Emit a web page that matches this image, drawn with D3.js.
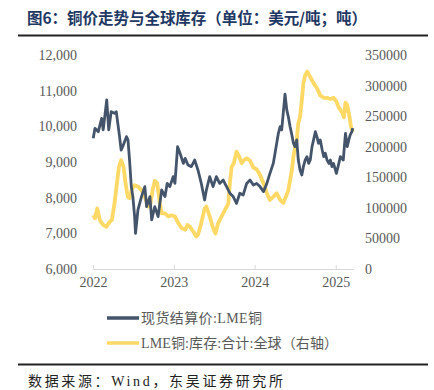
<!DOCTYPE html>
<html><head><meta charset="utf-8">
<script src="https://cdn.jsdelivr.net/npm/d3@7/dist/d3.min.js"></script>
<style>
body{margin:0;background:#fff;}
svg{display:block;}
</style></head>
<body>
<script>
const title = "图6：铜价走势与全球库存（单位：美元/吨；吨）";
const source = "数据来源：Wind，东吴证券研究所";
const seriesNames = ["现货结算价:LME铜", "LME铜:库存:合计:全球（右轴）"];
const leftTicks = [6000,7000,8000,9000,10000,11000,12000];
const rightTicks = [0,50000,100000,150000,200000,250000,300000,350000];
const yearTicks = ["2022","2023","2024","2025"];

const priceDates = ["2022-01-02","2022-01-10","2022-01-25","2022-02-09","2022-02-16","2022-03-04","2022-03-13","2022-03-24","2022-04-08","2022-04-16","2022-05-01","2022-05-08","2022-05-15","2022-06-01","2022-06-08","2022-06-15","2022-06-23","2022-06-30","2022-07-08","2022-07-12","2022-07-23","2022-08-08","2022-08-23","2022-08-31","2022-09-15","2022-09-23","2022-10-07","2022-10-22","2022-11-07","2022-11-22","2022-12-02","2022-12-14","2022-12-29","2023-01-06","2023-01-18","2023-01-29","2023-02-13","2023-02-21","2023-03-06","2023-03-21","2023-04-05","2023-04-20","2023-05-05","2023-05-20","2023-05-28","2023-06-12","2023-06-27","2023-07-12","2023-07-27","2023-08-12","2023-08-27","2023-09-11","2023-09-26","2023-10-11","2023-10-26","2023-11-10","2023-11-26","2023-12-11","2023-12-26","2024-01-10","2024-01-25","2024-02-10","2024-02-25","2024-03-10","2024-03-25","2024-04-02","2024-04-17","2024-04-25","2024-05-02","2024-05-09","2024-05-17","2024-05-25","2024-06-01","2024-06-09","2024-06-17","2024-06-24","2024-07-01","2024-07-09","2024-07-16","2024-07-24","2024-08-01","2024-08-08","2024-08-16","2024-08-24","2024-09-01","2024-09-08","2024-09-16","2024-09-23","2024-10-01","2024-10-08","2024-10-15","2024-10-23","2024-11-01","2024-11-08","2024-11-15","2024-11-23","2024-12-01","2024-12-08","2024-12-15","2024-12-22","2025-01-04","2025-01-15","2025-01-22","2025-02-04","2025-02-14","2025-02-22","2025-03-01","2025-03-07","2025-03-15","2025-03-19"];
const priceValues = [9664,9945,9850,10225,9900,10740,9900,10410,10365,10410,9710,9335,9430,9710,9620,9055,8310,8030,7470,7000,7655,8030,8310,7750,8030,7375,7750,7470,8215,8030,8400,8310,8590,8400,9430,9245,8960,9100,8915,8870,9055,8775,8400,7935,8215,8590,8310,8590,8400,8495,8310,8125,8030,7840,8125,8075,8400,8495,8355,8400,8310,8170,8400,8680,8960,9245,9805,9990,9900,10365,10900,10460,10270,9990,9755,9525,9430,9620,9055,8775,8635,8870,9055,9150,8960,9055,9430,9620,9850,9710,9525,9620,9335,9150,9245,9055,8960,9055,8870,8960,8680,8960,9150,9055,9805,9430,9620,9755,9850,9950];

const stockDates = ["2022-01-02","2022-01-10","2022-01-20","2022-02-01","2022-02-16","2022-03-02","2022-03-17","2022-03-27","2022-04-08","2022-04-19","2022-04-28","2022-05-08","2022-05-19","2022-05-28","2022-06-07","2022-06-15","2022-06-27","2022-07-08","2022-07-23","2022-08-08","2022-08-23","2022-09-07","2022-09-18","2022-09-27","2022-10-07","2022-10-18","2022-10-30","2022-11-07","2022-11-22","2022-12-07","2022-12-22","2023-01-06","2023-01-21","2023-02-05","2023-02-21","2023-03-03","2023-03-15","2023-03-30","2023-04-12","2023-04-20","2023-05-05","2023-05-20","2023-05-28","2023-06-12","2023-06-27","2023-07-08","2023-07-20","2023-08-05","2023-08-20","2023-09-04","2023-09-11","2023-09-19","2023-09-29","2023-10-11","2023-10-23","2023-11-03","2023-11-14","2023-11-26","2023-12-11","2023-12-26","2024-01-10","2024-01-25","2024-02-10","2024-02-25","2024-03-10","2024-03-25","2024-04-09","2024-04-25","2024-05-09","2024-05-21","2024-06-01","2024-06-17","2024-06-24","2024-07-09","2024-07-16","2024-07-24","2024-08-01","2024-08-08","2024-08-16","2024-08-26","2024-09-08","2024-09-23","2024-10-08","2024-10-23","2024-11-08","2024-11-23","2024-12-08","2024-12-22","2025-01-04","2025-01-15","2025-01-30","2025-02-07","2025-02-14","2025-02-22","2025-03-04","2025-03-11","2025-03-19"];
const stockValues = [88000,83000,99000,80000,72000,69000,77000,80000,107000,140000,167000,178000,167000,140000,118000,116000,132000,137000,135000,129000,118000,102000,107000,129000,144000,140000,107000,91000,91000,86000,88000,86000,75000,67000,64000,72000,69000,61000,53000,56000,75000,99000,102000,86000,67000,58000,75000,86000,96500,107000,140000,167000,173000,192000,184000,173000,178000,181000,177000,166000,163000,154000,140000,124000,113000,118000,124000,113000,108000,118000,129000,162000,184000,211000,238000,249000,276000,304000,317000,323000,314000,304000,296000,284000,280000,280000,278000,280000,274000,264000,256000,248000,272000,268000,249000,233000,224000];

const W = 434, H = 390;
const svg = d3.select("body").append("svg").attr("width", W).attr("height", H);
const serif = "'Liberation Serif','Times New Roman','Noto Sans CJK SC',serif";
const cjk = "'Liberation Serif','Noto Sans CJK SC',sans-serif";

// Title
svg.append("text").attr("x", 27).attr("y", 24).text(title)
  .attr("font-family", "'Noto Sans CJK SC',sans-serif").attr("font-weight", "bold")
  .attr("font-size", 15.5).attr("fill", "#1f3864")
  .attr("textLength", 340).attr("lengthAdjust", "spacing");
svg.append("line").attr("x1", 18).attr("x2", 428).attr("y1", 35.5).attr("y2", 35.5)
  .attr("stroke", "#222").attr("stroke-width", 2);

const parse = d3.timeParse("%Y-%m-%d");
const x = d3.scaleTime().domain([parse("2022-01-01"), parse("2025-03-20")]).range([93, 353]);
const yL = d3.scaleLinear().domain([6000, 12000]).range([269, 55]);
const yR = d3.scaleLinear().domain([0, 350000]).range([269, 55]);

// x axis
const xAxis = d3.axisBottom(x)
  .tickValues(yearTicks.map(y => parse(y + "-01-01")))
  .tickFormat(d3.timeFormat("%Y")).tickSizeInner(-4).tickSizeOuter(0).tickPadding(8);
const gx = svg.append("g").attr("transform", "translate(0,269)").call(xAxis);
gx.select(".domain").attr("stroke", "#d9d9d9");
gx.selectAll(".tick line").attr("stroke", "#d9d9d9");
gx.selectAll("text").attr("font-family", serif).attr("font-size", 14).attr("fill", "#595959");

// left axis
const gl = svg.append("g").attr("transform", "translate(82,0)")
  .call(d3.axisLeft(yL).tickValues(leftTicks).tickFormat(d3.format(",")).tickSize(0).tickPadding(5));
gl.select(".domain").remove();
gl.selectAll("text").attr("font-family", serif).attr("font-size", 14).attr("fill", "#595959");

// right axis
const gr = svg.append("g").attr("transform", "translate(360,0)")
  .call(d3.axisRight(yR).tickValues(rightTicks).tickFormat(d3.format("d")).tickSize(0).tickPadding(5));
gr.select(".domain").remove();
gr.selectAll("text").attr("font-family", serif).attr("font-size", 14).attr("fill", "#595959");

// lines
const price = priceDates.map((d, i) => ({d: parse(d), v: priceValues[i]}));
const stock = stockDates.map((d, i) => ({d: parse(d), v: stockValues[i]}));

svg.append("path").datum(stock)
  .attr("d", d3.line().x(p => x(p.d)).y(p => yR(p.v)))
  .attr("fill", "none").attr("stroke", "#ffd966").attr("stroke-width", 3.8)
  .attr("stroke-linejoin", "round");
svg.append("path").datum(price)
  .attr("d", d3.line().x(p => x(p.d)).y(p => yL(p.v)))
  .attr("fill", "none").attr("stroke", "#44546a").attr("stroke-width", 2.8)
  .attr("stroke-linejoin", "round");

// legend
const colors = ["#44546a", "#ffd966"];
const legendWidths = [121, 197];
seriesNames.forEach((n, i) => {
  const yy = 318 + i * 25;
  svg.append("line").attr("x1", 107).attr("x2", 139).attr("y1", yy).attr("y2", yy)
    .attr("stroke", colors[i]).attr("stroke-width", 3.5);
  svg.append("text").attr("x", 141).attr("y", yy + 5).text(n)
    .attr("font-family", cjk).attr("font-size", 14).attr("fill", "#595959")
    .attr("textLength", legendWidths[i]).attr("lengthAdjust", "spacing");
});

// source
svg.append("line").attr("x1", 18).attr("x2", 428).attr("y1", 364.5).attr("y2", 364.5)
  .attr("stroke", "#222").attr("stroke-width", 2);
svg.append("text").attr("x", 28).attr("y", 386).text(source)
  .attr("font-family", cjk).attr("font-size", 14).attr("fill", "#222")
  .attr("textLength", 255).attr("lengthAdjust", "spacing");
</script>
</body></html>
